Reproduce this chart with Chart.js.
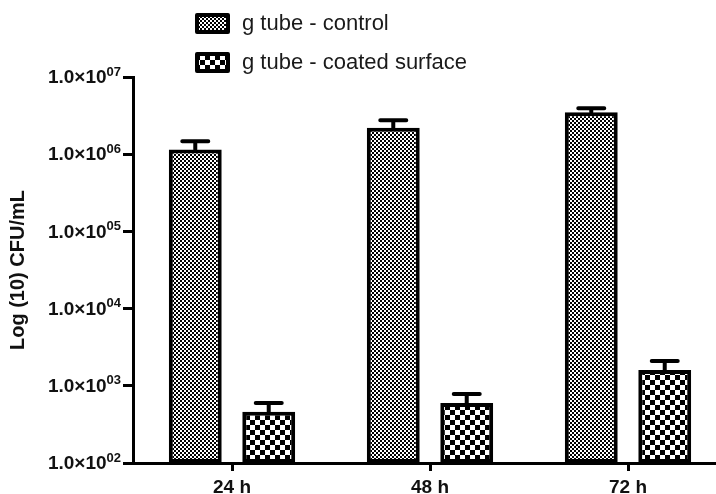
<!DOCTYPE html>
<html>
<head>
<meta charset="utf-8">
<script src="https://cdn.jsdelivr.net/npm/chart.js@4/dist/chart.umd.min.js"></script>
<style>
  html, body { margin: 0; padding: 0; overflow: hidden; background: #fff; }
  canvas { display: block; }
</style>
</head>
<body>
<canvas id="chart" width="740" height="494"></canvas>
<script>
// data
const categories = ['24 h', '48 h', '72 h'];
const seriesNames = ['g tube - control', 'g tube - coated surface'];
const controlValues = [1.15e6, 2.2e6, 3.5e6];
const controlErrors = [3.2e5, 5.6e5, 4.4e5];
const coatedValues = [460, 600, 1600];
const coatedErrors = [140, 185, 500];
const yTicks = [1e2, 1e3, 1e4, 1e5, 1e6, 1e7];
const yTickExponents = ['02', '03', '04', '05', '06', '07'];

const FONT = '"Liberation Sans", Arial, sans-serif';

// checkerboard fill
function makeChecker(cell) {
  const c = document.createElement('canvas');
  c.width = cell * 2;
  c.height = cell * 2;
  const g = c.getContext('2d');
  g.fillStyle = '#fff';
  g.fillRect(0, 0, c.width, c.height);
  g.fillStyle = '#000';
  g.fillRect(0, 0, cell, cell);
  g.fillRect(cell, cell, cell, cell);
  return document.getElementById('chart').getContext('2d').createPattern(c, 'repeat');
}

const finePattern = makeChecker(2);
const coarsePattern = makeChecker(5);

const errorBars = {
  id: 'errorBars',
  afterDatasetsDraw(chart) {
    const ctx = chart.ctx;
    const y = chart.scales.y;
    ctx.save();
    ctx.strokeStyle = '#000';
    ctx.lineWidth = 4;
    ctx.lineCap = 'round';
    chart.data.datasets.forEach((ds, i) => {
      const meta = chart.getDatasetMeta(i);
      meta.data.forEach((bar, j) => {
        const top = y.getPixelForValue(ds.data[j] + ds.errors[j]);
        ctx.beginPath();
        ctx.moveTo(bar.x, bar.y);
        ctx.lineTo(bar.x, top);
        ctx.moveTo(bar.x - 13, top);
        ctx.lineTo(bar.x + 13, top);
        ctx.stroke();
      });
    });
    ctx.restore();
  }
};

// tick labels with superscript exponent, and the stacked legend
const extras = {
  id: 'extras',
  afterDraw(chart) {
    const ctx = chart.ctx;
    const y = chart.scales.y;
    ctx.save();
    ctx.fillStyle = '#111';
    ctx.textBaseline = 'middle';
    yTicks.forEach((v, i) => {
      const py = y.getPixelForValue(v);
      ctx.font = 'bold 13px ' + FONT;
      const sup = yTickExponents[i];
      const supW = ctx.measureText(sup).width;
      const supX = 121 - supW;
      ctx.fillText(sup, supX, py - 5);
      ctx.font = 'bold 19px ' + FONT;
      const main = '1.0\u00d710';
      const mainW = ctx.measureText(main).width;
      ctx.fillText(main, supX - mainW, py + 1);
    });

    const patterns = [finePattern, coarsePattern];
    const rows = [23, 62];
    seriesNames.forEach((name, i) => {
      ctx.fillStyle = patterns[i];
      ctx.fillRect(197, rows[i] - 8, 31, 17);
      ctx.strokeStyle = '#000';
      ctx.lineWidth = 4;
      ctx.lineJoin = 'round';
      ctx.strokeRect(197, rows[i] - 8, 31, 17);
      ctx.fillStyle = '#1a1a1a';
      ctx.font = '22px ' + FONT;
      ctx.fillText(name, 242, rows[i] + 1);
    });
    ctx.restore();
  }
};

new Chart(document.getElementById('chart'), {
  type: 'bar',
  data: {
    labels: categories,
    datasets: [
      {
        label: seriesNames[0],
        data: controlValues,
        errors: controlErrors,
        backgroundColor: finePattern,
        borderColor: '#000',
        borderWidth: 4,
        borderSkipped: false
      },
      {
        label: seriesNames[1],
        data: coatedValues,
        errors: coatedErrors,
        backgroundColor: coarsePattern,
        borderColor: '#000',
        borderWidth: 4,
        borderSkipped: false
      }
    ]
  },
  options: {
    responsive: false,
    animation: false,
    devicePixelRatio: 1,
    categoryPercentage: 0.742,
    barPercentage: 0.72,
    layout: { padding: { left: 6, top: 77, right: 13, bottom: 0 } },
    plugins: {
      legend: { display: false },
      tooltip: { enabled: false }
    },
    scales: {
      x: {
        grid: {
          drawOnChartArea: false,
          drawTicks: true,
          offset: false,
          tickLength: 8,
          lineWidth: 3,
          color: '#000'
        },
        border: { display: true, width: 3, color: '#000' },
        ticks: {
          color: '#111',
          padding: 5,
          font: { family: FONT, size: 19, weight: 'bold' }
        },
        afterFit(s) { s.height = 31; }
      },
      y: {
        type: 'logarithmic',
        min: 1e2,
        max: 1e7,
        afterBuildTicks(s) { s.ticks = yTicks.map(v => ({ value: v })); },
        grid: {
          drawOnChartArea: false,
          drawTicks: true,
          tickLength: 10,
          lineWidth: 3,
          color: '#000'
        },
        border: { display: true, width: 3, color: '#000' },
        ticks: { display: false },
        title: {
          display: true,
          text: 'Log (10) CFU/mL',
          color: '#111',
          padding: 0,
          font: { family: FONT, size: 20, weight: 'bold' }
        },
        afterFit(s) { s.width = 127; }
      }
    }
  },
  plugins: [errorBars, extras]
});
</script>
</body>
</html>
